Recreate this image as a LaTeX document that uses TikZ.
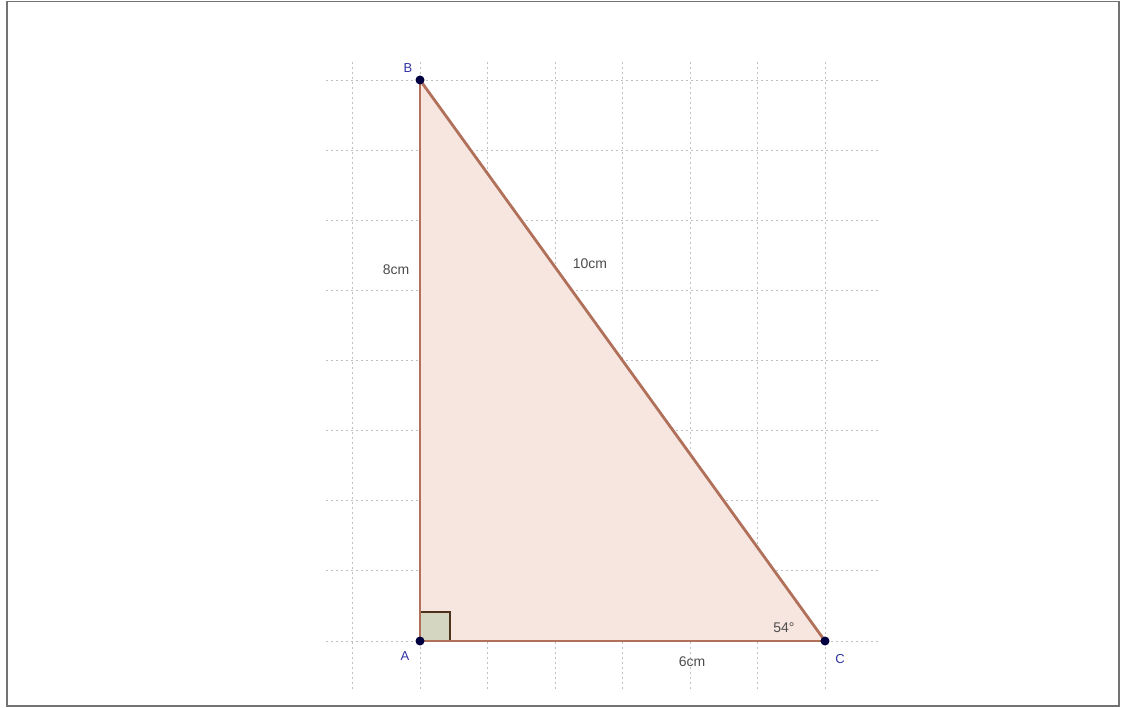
\documentclass[tikz,border=0pt]{standalone}
\usepackage{fontspec}
\setmainfont{Liberation Sans}
\definecolor{sidecol}{HTML}{B0705A}
\definecolor{fillcol}{HTML}{F7E6E0}
\definecolor{sqfill}{HTML}{D5D6C2}
\begin{document}
\begin{tikzpicture}[x=1pt,y=-1pt,
  gridline/.style={draw=black!25, dash pattern=on 2pt off 3pt, line width=0.9pt},
  side/.style={draw=sidecol, line width=2.8pt, line cap=round},
  ptdot/.style={circle, fill=blue!25!black, inner sep=0pt, minimum size=9pt},
  ptlabel/.style={text=blue!55!black!80, font=\fontsize{13}{15}\selectfont},
  meas/.style={text=black!70, font=\fontsize{14}{16}\selectfont}]
\useasboundingbox (0,0) rectangle (1121,708);
\draw[black!55, line width=1.8pt] (7,1.5) rectangle (1119,706);
% grid
\foreach \x in {352,420,487.5,555,622.5,690,757.5,825}
  \draw[gridline] (\x,62) -- (\x,692);
\foreach \y in {80,150.1,220.2,290.4,360.5,430.6,500.7,570.9,641}
  \draw[gridline] (326,\y) -- (880,\y);
% points
\coordinate (A) at (420,641);
\coordinate (B) at (420,80);
\coordinate (C) at (825,641);
\fill[fillcol] (A) -- (B) -- (C) -- cycle;
% right angle
\filldraw[fill=sqfill, draw=black!60!brown, line width=1.4pt] (420,612) rectangle (450,641);
\draw[side] (A) -- (B);
\draw[side] (B) -- (C);
\draw[side] (C) -- (A);
\node[ptdot] (pA) at (A) {};
\node[ptdot] (pB) at (B) {};
\node[ptdot] (pC) at (C) {};
\node[ptlabel] (lA) at (405,656) {A};
\node[ptlabel] (lB) at (408,68) {B};
\node[ptlabel] (lC) at (840,659) {C};
\node[meas] (m8) at (396,270) {8cm};
\node[meas] (m10) at (590,264) {10cm};
\node[meas] (m6) at (692,662) {6cm};
\node[meas] (ang) at (784,628) {54°};
\end{tikzpicture}
\end{document}
